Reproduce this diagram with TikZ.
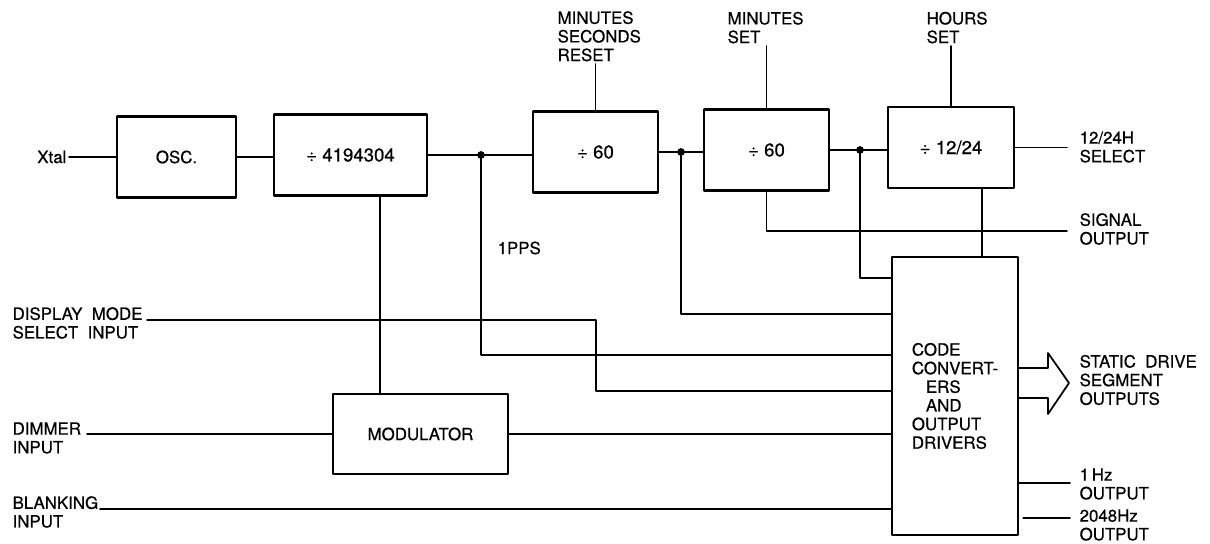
\documentclass[tikz,border=0pt]{standalone}
\usepackage{fontspec}
\setmainfont{TeX Gyre Heros}[FakeBold=0.6]
\usetikzlibrary{calc}

\tikzset{
  blk/.style={draw, line width=1.5pt, inner sep=0pt, minimum height=1.62cm},
  lbl/.style={align=left, inner sep=0pt, outer sep=1.5pt},
}

\begin{document}
\begin{tikzpicture}[line cap=round,line join=round, x=0.02cm, y=-0.02cm, line width=1pt,
  font=\fontsize{9.6}{10.6}\selectfont]
\useasboundingbox (0,0) rectangle (1210,544);
% counter chain
\node[blk, minimum width=2.38cm] (osc) at (176.5,157) {OSC.};
\node[blk, minimum width=3.06cm, font=\fontsize{10.6}{11}\selectfont] (divA) at (350.5,155) {÷ 4194304};
\node[blk, minimum width=2.5cm, font=\fontsize{10.6}{11}\selectfont] (secs) at (595.5,152) {÷ 60};
\node[blk, minimum width=2.5cm, font=\fontsize{10.6}{11}\selectfont] (mins) at (766.5,150) {÷ 60};
\node[blk, minimum width=2.52cm, font=\fontsize{10.6}{11}\selectfont] (hours) at (951,147.5) {÷ 12/24};
\node[blk, minimum width=3.5cm, minimum height=1.6cm] (modul) at (420.5,434) {MODULATOR};
\node[blk, minimum width=2.52cm, minimum height=5.56cm, align=left] (codec) at (955,396)
  {CODE\\CONVERT-\\\hspace{8pt}ERS\\\hspace{8pt}AND\\OUTPUT\\DRIVERS};
% labels
\node[lbl, anchor=east] (xtal) at (69,157) {Xtal};
\node[lbl, anchor=south west] (rst) at (555,64) {MINUTES\\SECONDS\\RESET};
\node[lbl, anchor=south west] (mset) at (725,46) {MINUTES\\SET};
\node[lbl, anchor=south west] (hset) at (924,46) {HOURS\\SET};
\node[lbl, anchor=west] (pps1) at (495,248) {1PPS};
\node[lbl, anchor=west] (dsp) at (10,323) {DISPLAY\ \ MODE\\SELECT\ \ INPUT};
\node[lbl, anchor=west] (dim) at (10,438) {DIMMER\\INPUT};
\node[lbl, anchor=west] (blank) at (10,512) {BLANKING\\INPUT};
\node[lbl, anchor=west] (sel) at (1077,147) {12/24H\\SELECT};
\node[lbl, anchor=west] (sig) at (1077,229) {SIGNAL\\OUTPUT};
\node[lbl, anchor=west] (seg) at (1077,380) {STATIC\ \ DRIVE\\SEGMENT\\OUTPUTS};
\node[lbl, anchor=west] (onehz) at (1077,484) {1\,Hz\\OUTPUT};
\node[lbl, anchor=west] (twok) at (1077,525) {2048Hz\\OUTPUT};
% wire ends
\coordinate (pps) at (481,155);
\coordinate (sj) at (681,152);
\coordinate (mj) at (860,150);
\coordinate (dspin) at (147,320);
\coordinate (dimin) at (87,434);
\coordinate (blkin) at (100,509);
\coordinate (selout) at (1067,147.5);
\coordinate (sigout) at (1067,231);
\coordinate (hz1) at (1070,483);
\coordinate (hz2k) at (1070,518);
% chain wires
\draw (xtal.east) -- (osc.west);
\draw (osc.east) -- (osc.east -| divA.west);
\draw (divA.east) -- (divA.east -| secs.west);
\draw (secs.east) -- (secs.east -| mins.west);
\draw (mins.east) -- (mins.east -| hours.west);
\draw (hours.east) -- (selout);
\draw (secs.north) -- (secs.north |- rst.south);
\draw (mins.north) -- (mins.north |- mset.south);
\draw (hours.north) -- (hours.north |- hset.south);
% taps to the converters
\draw (pps) |- (codec.west |- 0,355);
\draw (sj) |- (codec.west |- 0,314);
\draw (mj) |- (codec.west |- 0,278);
\draw (dspin) -| (596,391) -- (codec.west |- 0,391);
\draw (380,0 |- divA.south) -- (380,0 |- modul.north);
\draw (dimin) -- (modul.west);
\draw (modul.east) -- (modul.east -| codec.west);
\draw (blkin) -- (blkin -| codec.west);
\draw (mins.south) |- (sigout);
\draw (982,0 |- hours.south) -- (982,0 |- codec.north);
% outputs
\draw (codec.east |- 0,368) -- (1048,368) -- (1048,353) -- (1069,383)
  -- (1048,414) -- (1048,398) -- (codec.east |- 0,398);
\draw (codec.east |- hz1) -- (hz1);
\draw[shorten <=0.08cm] (codec.east |- hz2k) -- (hz2k);
\foreach \j in {pps,sj,mj} \fill (\j) circle (2.2pt);
\end{tikzpicture}
\end{document}
